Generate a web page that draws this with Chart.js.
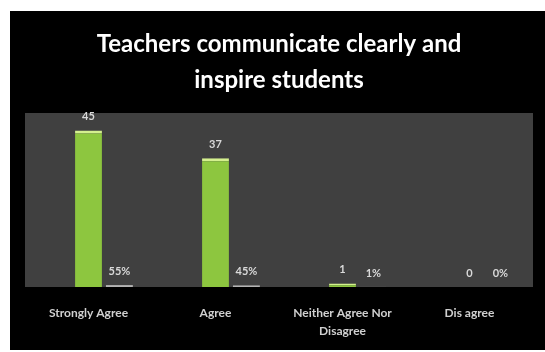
<!DOCTYPE html>
<html>
<head>
<meta charset="utf-8">
<script src="https://cdn.jsdelivr.net/npm/chart.js@4"></script>
<style>
  html, body { margin: 0; padding: 0; background: #ffffff; }
  #wrap { position: absolute; left: 10px; top: 11px; width: 535px; height: 339px; background: #000000; }
</style>
</head>
<body>
<div id="wrap"><canvas id="surveyChart" width="535" height="339"></canvas></div>
<script>
  // survey answers
  const categories = ["Strongly Agree", "Agree", ["Neither Agree Nor", "Disagree"], "Dis agree"];
  const responses = [45, 37, 1, 0];
  const sharePct = [55, 45, 1, 0];
  const yMax = 50;

  // grey plot area behind the bars
  const plotBackground = {
    id: "plotBackground",
    beforeDatasetsDraw(chart) {
      const { ctx, chartArea } = chart;
      ctx.save();
      ctx.fillStyle = "#404040";
      ctx.fillRect(chartArea.left, chartArea.top, chartArea.right - chartArea.left, chartArea.bottom - chartArea.top);
      ctx.restore();
    },
  };

  // value labels over each bar
  const valueLabels = {
    id: "valueLabels",
    afterDatasetsDraw(chart) {
      const ctx = chart.ctx;
      ctx.save();
      ctx.font = "bold 11px Lato";
      ctx.fillStyle = "#d9d9d9";
      ctx.textAlign = "center";
      ctx.textBaseline = "middle";
      chart.getDatasetMeta(1).data.forEach(function (bar, i) {
        ctx.fillText(String(responses[i]), bar.x, bar.y - 14);
      });
      chart.getDatasetMeta(2).data.forEach(function (bar, i) {
        ctx.fillText(sharePct[i] + "%", bar.x, bar.y - 14);
      });
      ctx.restore();
    },
  };

  new Chart(document.getElementById("surveyChart").getContext("2d"), {
    type: "bar",
    data: {
      labels: categories,
      datasets: [
        {
          // empty slot so the green bar sits on the category centre
          label: "",
          data: [],
        },
        {
          label: "Responses",
          data: responses,
          backgroundColor: "#8dc63f",
          borderColor: "#d4f08e",
          borderWidth: { top: 3, left: 0, right: 0, bottom: 0 },
          borderSkipped: "bottom",
        },
        {
          label: "Share",
          data: sharePct.map(function (v) { return v / 100; }),
          backgroundColor: "#b4b4b4",
        },
      ],
    },
    options: {
      responsive: false,
      animation: false,
      events: [],
      categoryPercentage: 0.73,
      barPercentage: 0.87,
      layout: {
        padding: { left: 15, right: 12, top: 0, bottom: 11 },
      },
      plugins: {
        legend: { display: false },
        tooltip: { enabled: false },
        title: {
          display: true,
          text: ["Teachers communicate clearly and", "inspire students"],
          color: "#ffffff",
          font: { family: "Lato", size: 24, weight: "bold", lineHeight: 1.5 },
          padding: { top: 15, bottom: 15 },
        },
      },
      scales: {
        x: {
          grid: { display: false, drawTicks: false },
          border: { display: false },
          ticks: {
            color: "#d0d0d0",
            font: { family: "Lato", size: 12, weight: "bold", lineHeight: 1.5 },
            padding: 17,
            maxRotation: 0,
            autoSkip: false,
          },
          afterFit: function (scale) {
            scale.height = 52;
          },
        },
        y: {
          display: false,
          min: 0,
          max: yMax,
        },
      },
    },
    plugins: [plotBackground, valueLabels],
  });
</script>
</body>
</html>
